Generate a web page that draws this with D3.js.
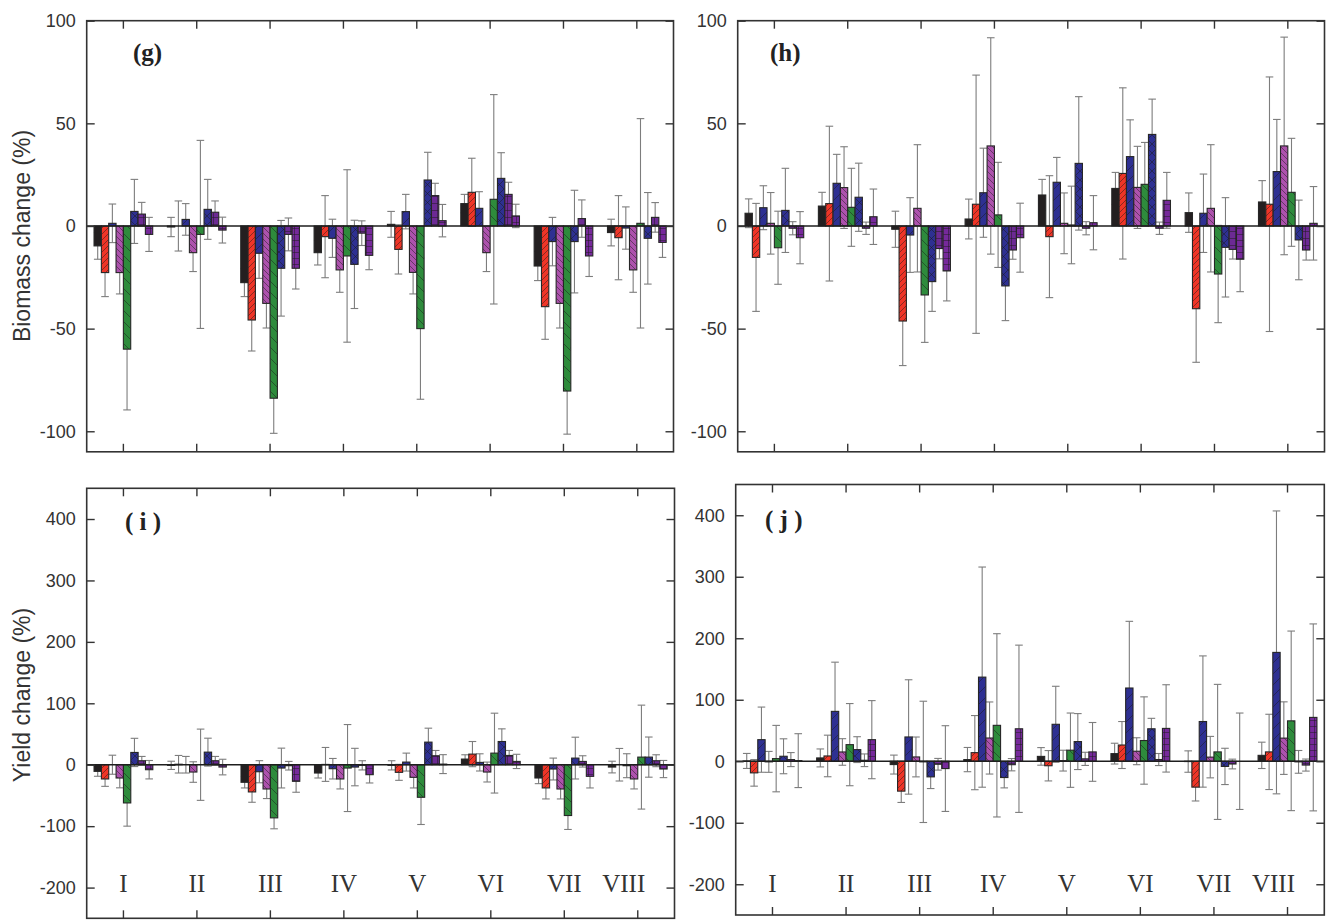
<!DOCTYPE html>
<html><head><meta charset="utf-8">
<script src="https://cdn.jsdelivr.net/npm/d3@7"></script>
<style>body{margin:0;background:#fff}svg{display:block}</style>
</head><body>
<svg id="chart" width="1326" height="920"></svg>
<script>
// ---------- DATA ----------
const groups = ["I","II","III","IV","V","VI","VII","VIII"];
const series = ["S1","S2","S3","S4","S5","S6","S7","S8"];
const biomassTicks = [100,50,0,-50,-100];
const yieldTicks = [400,300,200,100,0,-100,-200];

// Panel (g) biomass change: rows = groups I..VIII, cols = series 1..8
const gValues = [
  [-9.7,-22.7,1.3,-22.7,-60,7.1,5.8,-4.1],
  [-0.5,0,3.2,-13,-4.1,8.1,6.7,-2],
  [-27.6,-45.8,-13.3,-37.7,-83.9,-20.6,-4.1,-20.6],
  [-13,-5.2,-6,-21.4,-14.6,-18.7,-3.5,-14.3],
  [0.8,-11.4,7,-22.6,-50,22.4,14.8,2.6],
  [10.9,16.4,8.6,-13,13,23.2,15.4,4.9],
  [-19.5,-39.3,-7.6,-37.7,-80.4,-7.6,3.6,-14.6],
  [-3.2,-5.7,-1,-21.4,1.3,-6,4.2,-8]
];
const gErrors = [
  [6.5,11.7,9.4,10.4,29.6,15.6,5.7,8.3],
  [4.7,12.2,7.7,9.2,45.8,14.6,5.5,6.3],
  [6.8,15.1,12.2,12,17.1,23.3,8,10.1],
  [6,20,9.3,10.9,42,21.5,6,7],
  [6.3,12,8.4,10.5,34.4,13.5,6,7.9],
  [4.5,16.6,8.1,9.2,51,12.5,5.9,5.7],
  [7.1,15.9,11.8,12,21,25,9.1,10],
  [6.5,20.5,10.3,10.9,51,22.3,7.2,7.3]
];
// Panel (h) biomass change
const hValues = [
  [6.2,-15.3,8.9,1.3,-10.6,7.6,-1.1,-5.7],
  [9.7,10.9,20.8,18.7,9.1,14,-1.1,4.5],
  [-1.6,-46.3,-4.4,8.6,-33.6,-27.1,-11,-21.9],
  [3.4,10.6,16.2,39,5.4,-29.2,-11.7,-5.7],
  [15.1,-5.2,21.3,1.3,0.5,30.5,-1.1,1.6],
  [18.3,25.6,33.8,18.8,20.3,44.6,-1.1,12.5],
  [6.5,-40.3,6.2,8.6,-23.4,-10.4,-11.4,-16.2],
  [11.7,10.6,26.5,39,16.4,-6.8,-11.7,1.3]
];
const hErrors = [
  [7,26.3,10.7,15,17.8,20.5,3.2,12.7],
  [6.7,37.7,14.1,19.9,19,16.6,3,13.5],
  [8.8,21.7,18.2,31,23.1,14.5,5,14.6],
  [9.7,62.9,21.7,52.7,25.6,16.9,4.5,16.8],
  [7.6,29.7,12.1,14.8,18.9,32.5,3.2,13.2],
  [7.8,41.7,17.9,20,20.4,17.2,3,13.6],
  [9.6,26.1,19.1,31,23.7,24.2,4.7,15.8],
  [10.4,62,25.4,53,26.3,19.4,4.9,17.9]
];
// Panel (i) yield change
const iValues = [
  [-10.8,-23.2,0,-21.6,-62.2,20,6.5,-8.1],
  [-1,0.8,0,-11.9,0,20.5,6.5,-3.8],
  [-28.6,-44.3,-11.4,-39.5,-86.5,-5.4,-1.6,-27],
  [-13.5,0.5,-6.5,-23.2,-5.4,-3.8,-1,-16.2],
  [-1,-12.4,4.3,-20.5,-53,36.8,14.6,1],
  [9.2,17.3,3.8,-11.9,18.9,37.8,15.1,5.4],
  [-21.6,-37.8,-7,-39.5,-82.7,10.8,5.4,-18.9],
  [-3.8,0,-1.6,-23.2,12.4,12.4,6.5,-7]
];
const iErrors = [
  [8,12,15.5,16,37.8,23,7,15],
  [6.7,14.3,13.5,16.7,58,22.7,7,12.7],
  [9.2,16.8,18,15.6,17.8,32.4,7,17.8],
  [8.1,27.6,16.7,16.2,70.8,30.5,7.5,13.5],
  [7.5,13,14.6,17.3,44.3,22.7,8.6,15.4],
  [7,20.5,14,16.2,65,20.6,8.1,11.6],
  [9.2,17.9,17.8,16.2,22.7,34,9.2,18.9],
  [9.5,26.5,19.5,16.2,84.6,32.7,9.7,14]
];
// Panel (j) yield change
const jValues = [
  [0.5,-18.9,35.1,-1,4.3,8.1,2.7,1],
  [5.4,8.6,81.1,15.1,27,18.9,1.6,35.1],
  [-5.4,-48.6,39.5,7,-1,-25.4,-4.9,-11.9],
  [2.7,14,136.8,37.8,58.4,-26.5,-5.6,52.8],
  [7.9,-7.3,60.1,1,18,32,3.9,15.2],
  [12.4,26.4,119.1,16.3,33.7,52.8,2.8,53.4],
  [-0.5,-42.1,64.6,6.7,15.2,-8.4,-4.5,0],
  [9.6,15.2,177,37.6,65.7,-1,-6.2,71.3]
];
const jErrors = [
  [12.2,21.6,53,17,54,28.4,11.4,43.8],
  [14.6,33.8,80,21.6,66.8,21,10.3,63.5],
  [15.4,18.4,93,32.4,98.6,19,9.5,69.7],
  [19.7,60.3,179,58.6,149,16.8,10,136],
  [14.3,24.7,61.8,16.9,60.4,45.5,10.7,47.8],
  [16.9,38.2,108.4,21.9,71,17,9.8,71],
  [17.4,22.5,106.7,33.7,109.8,29.5,7.9,78.4],
  [21.4,61.2,230,59,146,18.5,9.8,152]
];

// ---------- STYLE ----------
const svg = d3.select("#chart");
svg.append("rect").attr("width",1326).attr("height",920).attr("fill","#fff");
const defs = svg.append("defs");
const C = {black:"#231f20", red:"#ef3527", blue:"#2e3092", pink:"#ad52ad", green:"#2e8b3c", purple:"#6c2a94", purple2:"#76299b"};
function pattern(id, color, size, paths, sw){
  const p = defs.append("pattern").attr("id",id).attr("patternUnits","userSpaceOnUse")
    .attr("width",size).attr("height",size);
  p.append("rect").attr("width",size).attr("height",size).attr("fill",color);
  paths.forEach(d => p.append("path").attr("d",d).attr("fill","none")
    .attr("stroke","#1b1b1b").attr("stroke-opacity",0.7).attr("stroke-width",sw||0.7));
}
const fw = s => `M-1,1 l2,-2 M0,${s} L${s},0 M${s-1},${s+1} l2,-2`;
const bk = s => `M-1,${s-1} l2,2 M0,0 L${s},${s} M${s-1},-1 l2,2`;
pattern("pRed", C.red, 6, [fw(6)]);
pattern("pBlue", C.blue, 11, [fw(11)]);
pattern("pPink", C.pink, 6, [bk(6)]);
pattern("pGreen", C.green, 11, [bk(11)]);
pattern("pBlueX", C.blue, 9, [fw(9), bk(9)]);
pattern("pPurple", C.purple, 7, ["M0,0.5 H7 M3.5,0 V7"]);
pattern("pPurple2", C.purple2, 6, ["M0,0.5 H6 M0.5,0 V6"]);
const seriesFill = ["#231f20","url(#pRed)","url(#pBlue)","url(#pPink)","url(#pGreen)","url(#pBlueX)","url(#pPurple)","url(#pPurple2)"];

const panels = [
  {label:"(g)", values:gValues, errors:gErrors, x0:86.7, x1:673.5, y0:20.7, y1:451.8, domain:[-110,100], ticks:biomassTicks, lx:133, ly:61, groupLabels:false},
  {label:"(h)", values:hValues, errors:hErrors, x0:737.7, x1:1324.5, y0:20.7, y1:451.8, domain:[-110,100], ticks:biomassTicks, lx:770, ly:61, groupLabels:false},
  {label:"( i )", values:iValues, errors:iErrors, x0:86.7, x1:674.5, y0:488.3, y1:918.3, domain:[-250,450], ticks:yieldTicks, lx:125, ly:530, groupLabels:true},
  {label:"( j )", values:jValues, errors:jErrors, x0:735.7, x1:1324.3, y0:484.5, y1:915, domain:[-250,450], ticks:yieldTicks, lx:765, ly:528, groupLabels:true}
];

panels.forEach(P => {
  const g = svg.append("g");
  const x = d3.scaleBand().domain(groups).range([P.x0, P.x1]).paddingInner(0).paddingOuter(0);
  const xs = d3.scaleBand().domain(series).range([0, x.bandwidth()]).paddingInner(0).paddingOuter(1);
  const y = d3.scaleLinear().domain(P.domain).range([P.y1, P.y0]);

  const rows = [];
  groups.forEach((gr, gi) => series.forEach((s, si) => rows.push({gr, s, si, v:P.values[gi][si], e:P.errors[gi][si]})));

  // error bars (behind bars)
  const eb = g.append("g").attr("stroke","#7d7d7d").attr("stroke-width",1.1).attr("fill","none");
  const cap = 3.8;
  rows.forEach(d => {
    const cx = x(d.gr) + xs(d.s) + xs.bandwidth()/2;
    const yt = y(d.v + d.e), yb = y(d.v - d.e);
    eb.append("line").attr("x1",cx).attr("x2",cx).attr("y1",yt).attr("y2",yb);
    eb.append("line").attr("x1",cx-cap).attr("x2",cx+cap).attr("y1",yt).attr("y2",yt);
    eb.append("line").attr("x1",cx-cap).attr("x2",cx+cap).attr("y1",yb).attr("y2",yb);
  });

  // bars
  g.append("g").selectAll("rect").data(rows).join("rect")
    .attr("x", d => x(d.gr) + xs(d.s))
    .attr("width", xs.bandwidth())
    .attr("y", d => y(Math.max(0, d.v)))
    .attr("height", d => Math.abs(y(d.v) - y(0)))
    .attr("fill", d => seriesFill[d.si])
    .attr("stroke", "#262626").attr("stroke-width", 1.1);

  // zero line
  g.append("line").attr("x1",P.x0).attr("x2",P.x1).attr("y1",y(0)).attr("y2",y(0))
    .attr("stroke","#1e1e1e").attr("stroke-width",1.6);

  // axes (inward ticks on all sides)
  const axStyle = sel => { sel.select(".domain").remove(); sel.selectAll("line").attr("stroke","#333").attr("stroke-width",1.4); };
  g.append("g").attr("transform",`translate(${P.x0},0)`)
    .call(d3.axisLeft(y).tickValues(P.ticks).tickSize(-8).tickPadding(11).tickFormat(d => String(d)))
    .call(axStyle)
    .call(s => s.selectAll("text").attr("font-family","'Liberation Sans', Arial, sans-serif").attr("font-size",18).attr("fill","#333"));
  g.append("g").attr("transform",`translate(${P.x1},0)`)
    .call(d3.axisRight(y).tickValues(P.ticks).tickSize(-8).tickFormat("")).call(axStyle);
  g.append("g").attr("transform",`translate(0,${P.y0})`)
    .call(d3.axisTop(x).tickSize(-8).tickFormat("")).call(axStyle);
  g.append("g").attr("transform",`translate(0,${P.y1})`)
    .call(d3.axisBottom(x).tickSize(-8).tickFormat("")).call(axStyle);

  // frame
  g.append("rect").attr("x",P.x0).attr("y",P.y0).attr("width",P.x1-P.x0).attr("height",P.y1-P.y0)
    .attr("fill","none").attr("stroke","#333").attr("stroke-width",1.6);

  // panel label
  g.append("text").attr("x",P.lx).attr("y",P.ly).text(P.label)
    .attr("font-family","'Liberation Serif', 'Times New Roman', serif").attr("font-weight","bold")
    .attr("font-size",25).attr("fill","#222");

  // group labels
  if (P.groupLabels) {
    g.append("g").selectAll("text").data(groups).join("text")
      .attr("x", d => x(d) + x.bandwidth()/2 + (d === "VIII" ? -14 : 0))
      .attr("y", 892).attr("text-anchor","middle").text(d => d)
      .attr("font-family","'Liberation Serif', 'Times New Roman', serif")
      .attr("font-size",25).attr("fill","#333");
  }
});

// y-axis titles
svg.append("text").attr("transform","translate(30,236) rotate(-90)").attr("text-anchor","middle")
  .attr("font-family","'Liberation Sans', Arial, sans-serif").attr("font-size",23).attr("fill","#333")
  .text("Biomass change (%)");
svg.append("text").attr("transform","translate(30,695) rotate(-90)").attr("text-anchor","middle")
  .attr("font-family","'Liberation Sans', Arial, sans-serif").attr("font-size",23).attr("fill","#333")
  .text("Yield change (%)");
</script>
</body></html>
